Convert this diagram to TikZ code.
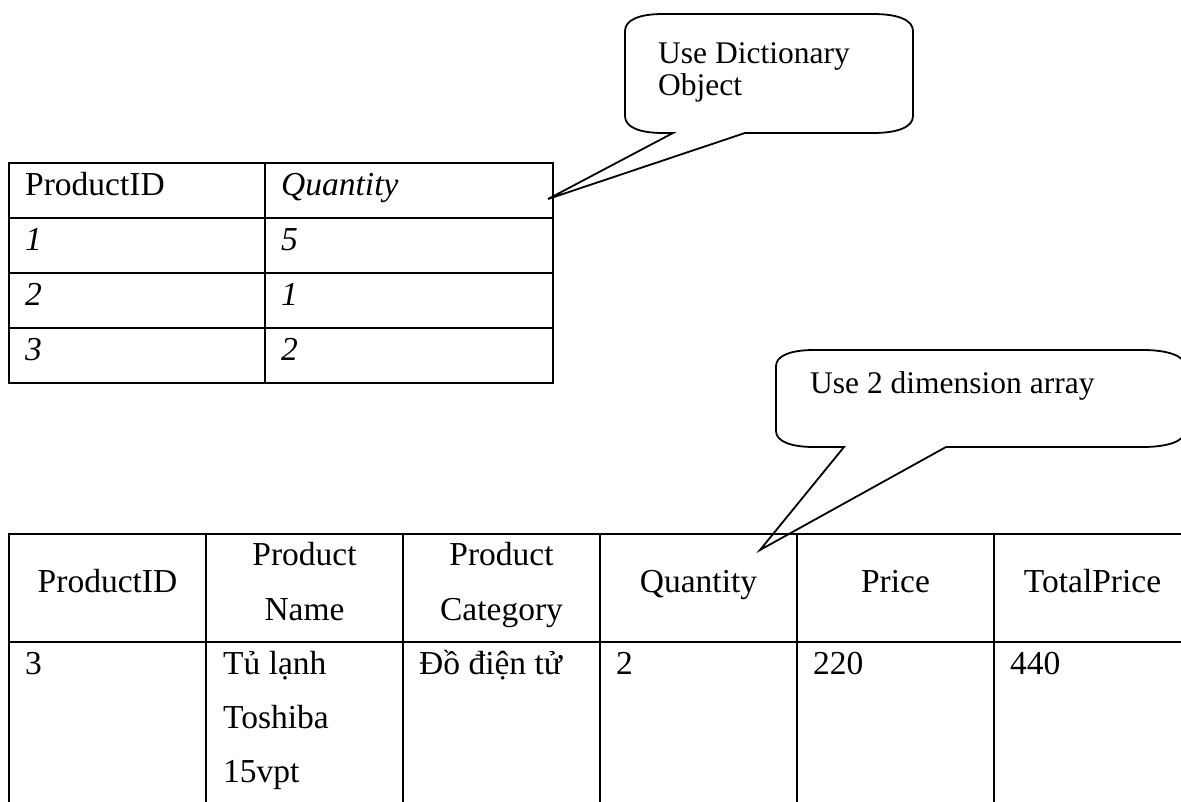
\documentclass[tikz,border=0pt]{standalone}
\usepackage{fontspec}
\setmainfont{Liberation Serif}
\begin{document}
\begin{tikzpicture}[x=1pt,y=-1pt,
  grid/.style={line width=1.8pt, line cap=rect},
  bubble/.style={draw, line width=1.8pt, line join=miter},
  cell/.style={anchor=base west, inner sep=0pt, font=\fontsize{33.5}{40}\selectfont},
  head/.style={anchor=base, inner sep=0pt, font=\fontsize{33.5}{40}\selectfont},
  note/.style={anchor=base west, inner sep=0pt, font=\fontsize{31.5}{36}\selectfont}]
\useasboundingbox (0,0) rectangle (1181,801);
\fill[white] (0,0) rectangle (1181,801);

% ---- dictionary table ----
\draw[grid] (9,163) rectangle (553,383);
\draw[grid] (265,163) -- (265,383);
\foreach \y in {218,273,328} \draw[grid] (9,\y) -- (553,\y);
\node[cell] (dk0) at (25,195) {ProductID};
\node[cell] (dv0) at (281,195) {\itshape Quantity};
\node[cell] (dk1) at (25,250) {\itshape 1};
\node[cell] (dv1) at (281,250) {\itshape 5};
\node[cell] (dk2) at (25,305) {\itshape 2};
\node[cell] (dv2) at (281,305) {\itshape 1};
\node[cell] (dk3) at (25,360) {\itshape 3};
\node[cell] (dv3) at (281,360) {\itshape 2};

% ---- callout for the dictionary ----
\coordinate (tipA) at (548,199);
\draw[bubble] (673,133) -- (tipA) -- (745,133) -- (873,133)
  .. controls (898,133) and (913,127) .. (913,116) -- (913,31)
  .. controls (913,20) and (898,14) .. (873,14) -- (663,14)
  .. controls (639,14) and (625,20) .. (625,31) -- (625,116)
  .. controls (625,127) and (639,133) .. (663,133) -- cycle;
\node[note] (calloutA1) at (658,63) {Use Dictionary};
\node[note] (calloutA2) at (658,95) {Object};

% ---- callout for the array ----
\coordinate (tipB) at (760,550);
\draw[bubble] (844,447) -- (tipB) -- (946,447) -- (1143,447)
  .. controls (1168,447) and (1185,441) .. (1185,431) -- (1185,366)
  .. controls (1185,356) and (1168,350) .. (1143,350) -- (814,350)
  .. controls (790,350) and (776,356) .. (776,366) -- (776,431)
  .. controls (776,441) and (790,447) .. (814,447) -- cycle;
\node[note] (calloutB) at (810,393) {Use 2 dimension array};

% ---- two dimension array table ----
\draw[grid] (1190,534) -- (9,534) -- (9,810);
\draw[grid] (9,642) -- (1190,642);
\foreach \x in {206,403,600,797,994} \draw[grid] (\x,534) -- (\x,810);
\node[head] (h1) at (107.5,592) {ProductID};
\node[head] (h2a) at (304.5,565) {Product};
\node[head] (h2b) at (304.5,620) {Name};
\node[head] (h3a) at (501.5,565) {Product};
\node[head] (h3b) at (501.5,620) {Category};
\node[head] (h4) at (698.5,592) {Quantity};
\node[head] (h5) at (895.5,592) {Price};
\node[head] (h6) at (1092.5,592) {TotalPrice};
\node[cell] (r1) at (25,674) {3};
\node[cell] (r2a) at (223,674) {Tủ lạnh};
\node[cell] (r2b) at (223,728) {Toshiba};
\node[cell] (r2c) at (223,782) {15vpt};
\node[cell] (r3) at (419,674) {Đồ điện tử};
\node[cell] (r4) at (616,674) {2};
\node[cell] (r5) at (813,674) {220};
\node[cell] (r6) at (1010,674) {440};
\end{tikzpicture}
\end{document}
